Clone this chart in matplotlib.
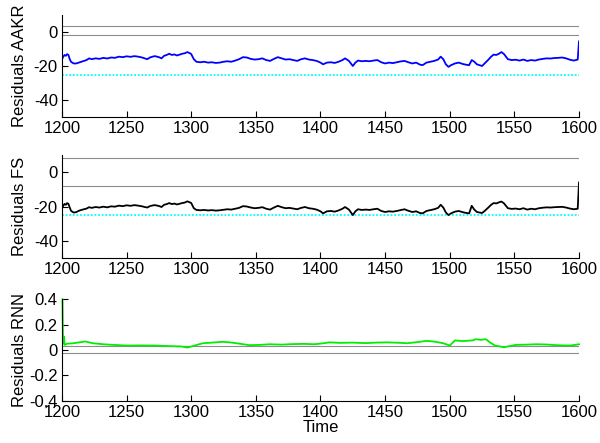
import numpy as np
import matplotlib
matplotlib.use("Agg")
from matplotlib import pyplot as plt

plt.rcParams['font.family'] = ['Liberation Sans', 'DejaVu Sans']
plt.rcParams['axes.unicode_minus'] = False

# time grid shared by AAKR and FS residuals
t_res = [1200, 1201, 1202, 1203, 1204, 1205, 1206, 1207, 1209, 1211, 1213, 1215, 1217, 1219,
         1221, 1223, 1226, 1229, 1232, 1235, 1238, 1241, 1244, 1247, 1250, 1253, 1256, 1259,
         1262, 1264, 1266, 1268, 1270, 1272, 1275, 1277, 1279, 1281, 1283, 1285, 1287, 1289,
         1291, 1293, 1295, 1297, 1299, 1300, 1302, 1304, 1307, 1310, 1313, 1316, 1319, 1322,
         1325, 1328, 1331, 1334, 1337, 1340, 1343, 1346, 1349, 1352, 1355, 1358, 1361, 1364,
         1367, 1370, 1373, 1376, 1379, 1382, 1385, 1388, 1391, 1394, 1397, 1400, 1402, 1405,
         1408, 1411, 1414, 1417, 1419, 1422, 1425, 1427, 1429, 1432, 1435, 1438, 1441, 1444,
         1447, 1450, 1453, 1456, 1459, 1462, 1465, 1468, 1471, 1474, 1477, 1479, 1482, 1485,
         1488, 1491, 1493, 1495, 1497, 1499, 1501, 1504, 1507, 1510, 1513, 1515, 1517, 1519,
         1521, 1523, 1525, 1527, 1530, 1532, 1534, 1536, 1538, 1540, 1542, 1545, 1548, 1551,
         1554, 1557, 1560, 1563, 1566, 1569, 1572, 1575, 1578, 1581, 1584, 1587, 1590, 1593,
         1596, 1599, 1600]

res_aakr = [-16, -14.5, -13.5, -14, -13, -13.5, -16, -17.5, -18.5, -18.5, -18, -17.5, -17, -16.5,
            -15.5, -16, -15.5, -15.8, -15.2, -15.6, -15, -15.2, -14.5, -14.8, -14.3, -14.6, -14.2, -14.5,
            -15, -15.5, -16, -15, -14.5, -14.2, -14.8, -15.5, -14, -13.5, -12.8, -13.5, -13.2, -13.8,
            -13.3, -12.8, -12.5, -11.8, -12.5, -13, -16, -17.5, -17.8, -17.5, -18, -17.8, -18.2, -18,
            -17.5, -17.2, -17.5, -16.8, -16, -14.8, -15, -15.8, -16.2, -16, -15.5, -16.5, -17, -15.8,
            -14.8, -15.5, -16.2, -16, -16.5, -17, -16, -15.5, -16.2, -16.5, -17, -18, -19, -18,
            -17.8, -18.2, -17.5, -16.5, -15.5, -17, -20, -18, -16.8, -17.2, -17, -17.2, -16.8, -16.5,
            -17.8, -18.5, -18, -18.3, -17.8, -17.3, -17, -17.8, -18.5, -18, -19.2, -19.5, -18, -17.5,
            -17, -16.2, -14.5, -16, -19, -20.5, -19.5, -18.5, -18, -18.8, -19.3, -19.5, -16.5, -17.5,
            -19, -19.5, -20, -18.5, -16.2, -14.5, -13.3, -13.5, -12.8, -11.8, -13, -16, -16.5, -16.3,
            -16.8, -16.2, -17, -16.5, -16.8, -16.2, -15.8, -15.5, -15.6, -15.3, -15.2, -15, -15.5, -16.3,
            -16.8, -16.2, -5.5]

res_fs = [-21, -19.5, -18.5, -19, -18, -18.5, -20.6, -22.5, -23.5, -23.3, -22.5, -22, -21.6, -21.2,
          -20.4, -20.8, -20.3, -20.6, -20.1, -20.5, -19.9, -20.1, -19.5, -19.8, -19.3, -19.6, -19.2, -19.5,
          -19.9, -20.3, -20.6, -19.8, -19.4, -19.2, -19.7, -20.3, -19, -18.6, -18, -18.6, -18.3, -18.8,
          -18.4, -18, -17.7, -17, -17.6, -18, -21, -22, -22.2, -22, -22.3, -22.1, -22.4, -22.2,
          -21.9, -21.6, -21.8, -21.3, -20.8, -19.8, -20, -20.6, -21, -20.8, -20.4, -21.3, -21.8, -20.6,
          -19.6, -20.4, -21, -20.8, -21.2, -21.6, -20.8, -20.3, -21, -21.3, -21.8, -22.8, -24, -22.8,
          -22.6, -23, -22.3, -21.3, -20.3, -21.8, -25, -22.8, -21.6, -22, -21.8, -22, -21.6, -21.3,
          -22.6, -23.2, -22.8, -23, -22.6, -22.1, -21.6, -22.5, -23.2, -22.8, -23.8, -24, -22.6, -22.1,
          -21.6, -20.8, -19, -20.6, -23.5, -25, -24, -23, -22.6, -23.3, -23.8, -24, -19.6, -21.8,
          -23.2, -23.5, -23.8, -22.6, -20.5, -19, -18, -18.2, -17.6, -17.1, -18.2, -21, -21.4, -21.2,
          -21.6, -21, -21.8, -21.3, -21.6, -21, -20.7, -20.5, -20.6, -20.4, -20.3, -20.2, -20.6, -21.2,
          -21.6, -21.3, -6]

t_rnn = [1200.4, 1200.8, 1201.2, 1201.6, 1202, 1204, 1208, 1212, 1218, 1224, 1232, 1240, 1250, 1260,
         1271, 1284, 1292, 1297, 1301, 1305, 1309, 1316, 1324, 1330, 1335, 1345, 1353, 1361, 1370,
         1378, 1387, 1395, 1400, 1407, 1415, 1425, 1435, 1443, 1451, 1460, 1467, 1475, 1482, 1488,
         1495, 1500, 1504, 1510, 1513, 1518, 1520, 1524, 1528, 1531, 1535, 1542, 1546, 1551, 1559,
         1567, 1575, 1582, 1588, 1593, 1597, 1600]
res_rnn = [0.4, 0.05, 0.07, 0.105, 0.04, 0.05, 0.052, 0.058, 0.067, 0.053, 0.045, 0.04, 0.035, 0.036,
           0.035, 0.03, 0.028, 0.019, 0.03, 0.042, 0.053, 0.058, 0.064, 0.06, 0.053, 0.038, 0.04, 0.045, 0.042,
           0.046, 0.048, 0.045, 0.05, 0.06, 0.056, 0.058, 0.054, 0.058, 0.06, 0.057, 0.053, 0.062, 0.072, 0.066,
           0.053, 0.035, 0.075, 0.07, 0.072, 0.076, 0.085, 0.08, 0.085, 0.06, 0.035, 0.021, 0.03, 0.04, 0.042,
           0.045, 0.043, 0.038, 0.036, 0.035, 0.04, 0.045]

# limits: [upper, lower, alarm]
lim_aakr = [3.5, -2, -25]
lim_fs = [8, -8, -25]
lim_rnn = [0.035, -0.027]

fig = plt.figure(figsize=(6, 4.43), dpi=100)
ax1 = fig.add_axes([0.1033, 0.7359, 0.8617, 0.2302])
ax2 = fig.add_axes([0.1033, 0.4176, 0.8617, 0.2325])
ax3 = fig.add_axes([0.1033, 0.0955, 0.8617, 0.2290])

def thresholds(ax, lims):
    ax.plot([1200, 1600], [lims[0], lims[0]], color='0.55', lw=0.8)
    ax.plot([1200, 1600], [lims[1], lims[1]], color='0.55', lw=0.8)
    if len(lims) > 2:
        ax.plot([1200, 1600], [lims[2], lims[2]], color='cyan', lw=1.3, ls=(0, (1, 1)))

def style(ax, ylim, yticks, ylabel):
    ax.set_xlim(1200, 1600)
    ax.set_ylim(*ylim)
    ax.set_yticks(yticks)
    ax.set_xticks(np.arange(1200, 1601, 50))
    for s in ['top', 'right']:
        ax.spines[s].set_visible(False)
    for s in ['left', 'bottom']:
        ax.spines[s].set_linewidth(0.8)
    ax.tick_params(direction='in', labelsize=12, length=4, width=0.8, pad=3)
    ax.set_ylabel(ylabel, fontsize=12)
    ax.yaxis.set_label_coords(-0.068, 0.5)

thresholds(ax1, lim_aakr)
ax1.plot(t_res, res_aakr, color='#0000ff', lw=1.3)
style(ax1, (-50, 10), [-40, -20, 0], 'Residuals AAKR')

thresholds(ax2, lim_fs)
ax2.plot(t_res, res_fs, color='black', lw=1.3)
style(ax2, (-50, 10), [-40, -20, 0], 'Residuals FS')

thresholds(ax3, lim_rnn)
ax3.plot(t_rnn, res_rnn, color='#00ee00', lw=1.3, clip_on=False)
style(ax3, (-0.4, 0.4), [-0.4, -0.2, 0, 0.2, 0.4], 'Residuals RNN')
ax3.set_yticklabels(['-0.4', '-0.2', '0', '0.2', '0.4'])
ax3.set_xlabel('Time', fontsize=12, labelpad=0)

fig.savefig('out.png', dpi=100)
